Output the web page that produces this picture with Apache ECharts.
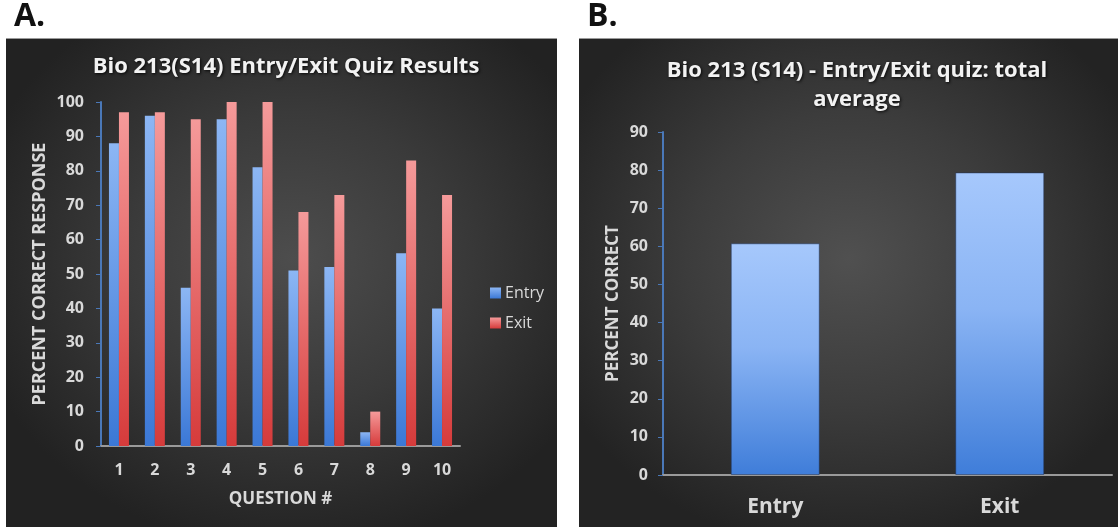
<!DOCTYPE html>
<html>
<head>
<meta charset="utf-8">
<script src="https://cdn.jsdelivr.net/npm/echarts@6/dist/echarts.min.js"></script>
<style>
  html, body { margin: 0; padding: 0; background: #ffffff; }
  #wrap { position: relative; width: 1118px; height: 527px; overflow: hidden; }
  .panel { position: absolute; top: 38px; bottom: 0; border-top: 1px solid #9a9a9a; }
  #panelA { left: 6px; width: 551px;
    background: radial-gradient(ellipse 60% 60% at 52% 45%, #4d4d4d 0%, #3a3a3a 50%, #222222 100%); }
  #panelB { left: 579px; right: 0;
    background: radial-gradient(ellipse 60% 60% at 50% 45%, #505050 0%, #3c3c3c 50%, #232323 100%); }
  #chart { position: absolute; left: 0; top: 0; width: 1118px; height: 527px; }
</style>
</head>
<body>
<div id="wrap">
  <div class="panel" id="panelA"></div>
  <div class="panel" id="panelB"></div>
  <div id="chart"></div>
</div>
<script>
// Per-question results (panel A)
const questions = ['1', '2', '3', '4', '5', '6', '7', '8', '9', '10'];
const entryScores = [88, 96, 46, 95, 81, 51, 52, 4, 56, 40];
const exitScores = [97, 97, 95, 100, 100, 68, 73, 10, 83, 73];

// Overall averages (panel B)
const quizStages = ['Entry', 'Exit'];
const averageScores = [60.8, 79.4];

const FONT = '"Open Sans", "DejaVu Sans", sans-serif';
const LABEL = '#d9d9d9';

function vGrad(top, bottom) {
  return new echarts.graphic.LinearGradient(0, 0, 0, 1, [
    { offset: 0, color: top },
    { offset: 1, color: bottom }
  ]);
}

const shadowText = {
  color: '#f2f2f2',
  fontFamily: FONT,
  fontWeight: 'bold',
  textShadowColor: 'rgba(0,0,0,0.85)',
  textShadowBlur: 3,
  textShadowOffsetX: 1,
  textShadowOffsetY: 1
};

const boldLabel = { color: LABEL, fontFamily: FONT, fontWeight: 'bold' };

const chart = echarts.init(document.getElementById('chart'), null, { renderer: 'canvas' });

chart.setOption({
  backgroundColor: 'transparent',
  animation: false,
  title: [
    { text: 'A.', left: 9, top: -4, textStyle: { fontFamily: FONT, fontWeight: 'bold', fontSize: 32, color: '#111' } },
    { text: 'B.', left: 582, top: -4, textStyle: { fontFamily: FONT, fontWeight: 'bold', fontSize: 32, color: '#111' } },
    { text: 'Bio 213(S14) Entry/Exit Quiz Results', left: 281, top: 51, textAlign: 'center',
      textStyle: Object.assign({ fontSize: 22 }, shadowText) },
    { text: 'Bio 213 (S14) - Entry/Exit quiz: total\naverage', left: 852, top: 51, textAlign: 'center',
      textStyle: Object.assign({ fontSize: 22, lineHeight: 29, align: 'center' }, shadowText) }
  ],
  legend: {
    data: ['Entry', 'Exit'],
    orient: 'vertical',
    left: 485,
    top: 280,
    itemWidth: 11,
    itemHeight: 11,
    itemGap: 14,
    icon: 'rect',
    textStyle: { color: LABEL, fontFamily: FONT, fontSize: 16, padding: [0, 0, 0, -1] }
  },
  grid: [
    { left: 101, right: 658, top: 102, bottom: 81 },
    { left: 663, right: 6, top: 132, bottom: 52 }
  ],
  xAxis: [
    {
      gridIndex: 0,
      type: 'category',
      data: questions,
      name: 'QUESTION #',
      nameLocation: 'middle',
      nameGap: 45,
      nameTextStyle: Object.assign({ fontSize: 17 }, boldLabel),
      axisLine: { lineStyle: { color: '#9a9a9a', width: 2 } },
      axisTick: { show: false },
      axisLabel: Object.assign({ fontSize: 16, margin: 16 }, boldLabel)
    },
    {
      gridIndex: 1,
      type: 'category',
      data: quizStages,
      axisLine: { lineStyle: { color: '#9a9a9a', width: 2 } },
      axisTick: { show: false },
      axisLabel: Object.assign({ fontSize: 21, margin: 22 }, boldLabel)
    }
  ],
  yAxis: [
    {
      gridIndex: 0,
      type: 'value',
      min: 0,
      max: 100,
      interval: 10,
      name: 'PERCENT CORRECT RESPONSE',
      nameLocation: 'middle',
      nameRotate: 90,
      nameGap: 52,
      nameTextStyle: Object.assign({ fontSize: 18 }, boldLabel),
      axisLine: { show: true, lineStyle: { color: '#4a78b8', width: 2 } },
      axisTick: { show: true, length: 5, lineStyle: { color: '#4a78b8' } },
      splitLine: { show: false },
      axisLabel: Object.assign({ fontSize: 16, margin: 17 }, boldLabel)
    },
    {
      gridIndex: 1,
      type: 'value',
      min: 0,
      max: 90,
      interval: 10,
      name: 'PERCENT CORRECT',
      nameLocation: 'middle',
      nameRotate: 90,
      nameGap: 41,
      nameTextStyle: Object.assign({ fontSize: 17 }, boldLabel),
      axisLine: { show: true, lineStyle: { color: '#4a78b8', width: 2 } },
      axisTick: { show: true, length: 5, lineStyle: { color: '#4a78b8' } },
      splitLine: { show: false },
      axisLabel: Object.assign({ fontSize: 16, margin: 15 }, boldLabel)
    }
  ],
  series: [
    {
      name: 'Entry',
      type: 'bar',
      xAxisIndex: 0,
      yAxisIndex: 0,
      data: entryScores,
      barWidth: 10,
      barGap: '0%',
      itemStyle: { color: vGrad('#8cb6f4', '#3b78d6') }
    },
    {
      name: 'Exit',
      type: 'bar',
      xAxisIndex: 0,
      yAxisIndex: 0,
      data: exitScores,
      barWidth: 10,
      barGap: '0%',
      itemStyle: { color: vGrad('#f59a9a', '#d63b3b') }
    },
    {
      name: 'Average',
      type: 'bar',
      xAxisIndex: 1,
      yAxisIndex: 1,
      data: averageScores,
      barWidth: 89,
      itemStyle: {
        color: new echarts.graphic.LinearGradient(0, 0, 0, 1, [
          { offset: 0, color: '#a6c8fc' },
          { offset: 0.45, color: '#8ab4f4' },
          { offset: 1, color: '#3f7dd9' }
        ]),
        borderColor: 'rgba(30,50,90,0.5)',
        borderWidth: 1
      }
    }
  ]
});
</script>
</body>
</html>
